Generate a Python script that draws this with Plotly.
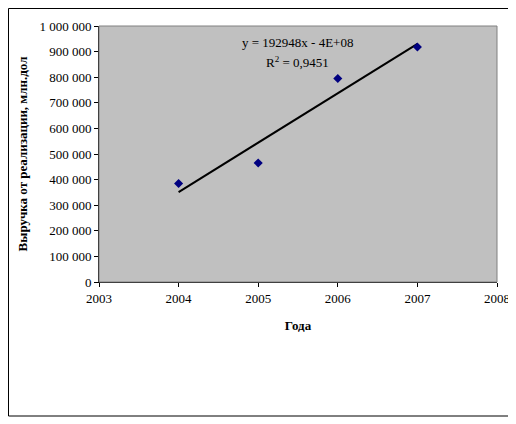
import numpy as np
import plotly.graph_objects as go

years = [2004, 2005, 2006, 2007]
revenue = [385000, 465000, 795000, 918000]
x_ticks = [2003, 2004, 2005, 2006, 2007, 2008]
y_ticks = [0, 100000, 200000, 300000, 400000, 500000, 600000, 700000, 800000, 900000, 1000000]

slope, intercept = np.polyfit(years, revenue, 1)
trend_x = [years[0], years[-1]]
trend_y = [slope * v + intercept for v in trend_x]

font_family = "Liberation Serif, Times New Roman, serif"

# page body has an 8px margin; compensate so plot area lands at x 99..497, y 26..282
W, H = 508, 416
L, R, T, B = 91, 19, 18, 142
pw, ph = W - L - R, H - T - B

fig = go.Figure()
fig.add_trace(go.Scatter(x=trend_x, y=trend_y, mode="lines",
                         line=dict(color="black", width=2), showlegend=False, hoverinfo="skip"))
fig.add_trace(go.Scatter(x=years, y=revenue, mode="markers",
                         marker=dict(symbol="diamond", size=7, color="#000080"),
                         showlegend=False))

fig.update_layout(
    width=W, height=H,
    margin=dict(l=L, r=R, t=T, b=B, autoexpand=False),
    paper_bgcolor="white",
    plot_bgcolor="#C0C0C0",
    separators=", ",
    font=dict(family=font_family, size=13, color="black"),
    xaxis=dict(range=[2003, 2008], tickvals=x_ticks, ticktext=[str(v) for v in x_ticks],
               showgrid=False, zeroline=False, showline=True, linecolor="black", linewidth=1,
               ticks="outside", ticklen=4, tickcolor="black", automargin=False,
               title=dict(text="<b>Года</b>", font=dict(size=13), standoff=16),
               tickfont=dict(size=13)),
    yaxis=dict(range=[0, 1000000], tickvals=y_ticks, tickformat=",d",
               showgrid=False, zeroline=False, showline=True, linecolor="black", linewidth=1,
               ticks="outside", ticklen=4, tickcolor="black", automargin=False,
               title=dict(text="<b>Выручка от реализации, млн.дол</b>", font=dict(size=13), standoff=8),
               tickfont=dict(size=13)),
    shapes=[
        dict(type="rect", xref="paper", yref="paper", x0=0, x1=1, y0=0, y1=1,
             line=dict(color="#808080", width=1), layer="above"),
        dict(type="rect", xref="paper", yref="paper",
             x0=-(L - 0.5) / pw, x1=1 + (R - 7) / pw,
             y0=-134 / ph, y1=1 + (T - 0.5) / ph,
             line=dict(color="black", width=1)),
    ],
    annotations=[
        dict(x=2005.49, y=935000, xref="x", yref="y", showarrow=False,
             text="y = 192948x - 4E+08", font=dict(size=13, family=font_family)),
        dict(x=2005.49, y=858000, xref="x", yref="y", showarrow=False,
             text="R<sup>2</sup> = 0,9451", font=dict(size=13, family=font_family)),
    ],
)

fig.write_html("out.html")
